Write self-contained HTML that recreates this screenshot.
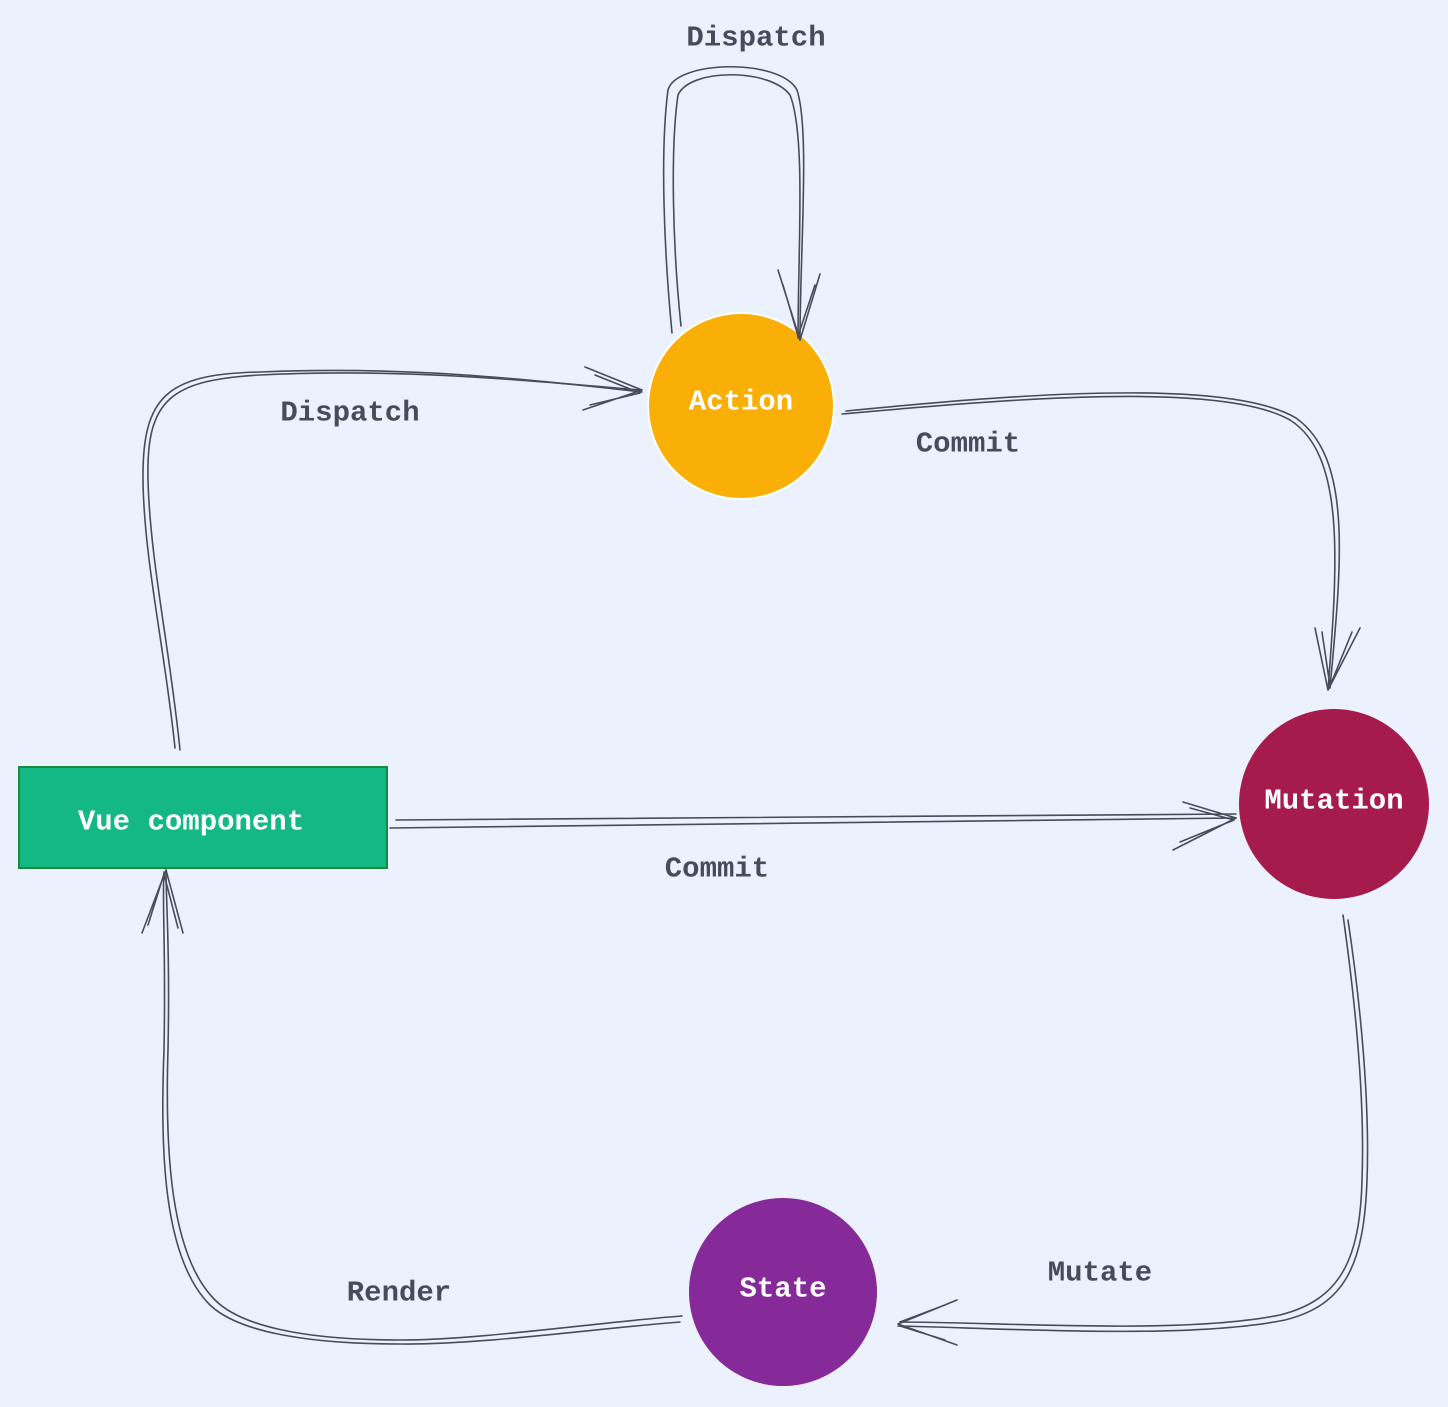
<!DOCTYPE html>
<html><head><meta charset="utf-8"><style>
body{margin:0;background:#EBF2FE;}
svg{display:block}
text{font-family:"Liberation Mono","DejaVu Sans Mono",monospace;font-weight:bold;font-size:29px;text-anchor:middle;dominant-baseline:middle}
.l{fill:#474C5A}
.w{fill:#fff}
path{fill:none;stroke:#474C5A;stroke-width:1.6;stroke-linecap:round}
</style></head><body>
<svg width="1448" height="1407" viewBox="0 0 1448 1407">
<rect width="1448" height="1407" fill="#EBF2FE"/>
<!-- nodes -->
<circle cx="741" cy="406" r="93" fill="#F9AF05" stroke="#fff" stroke-width="2"/>
<circle cx="1334" cy="804" r="95" fill="#A51C4C"/>
<circle cx="783" cy="1292" r="94" fill="#862A9A"/>
<rect x="19" y="767" width="368" height="101" fill="#13B884" stroke="#178A3E" stroke-width="2"/>
<text class="w" x="741" y="402">Action</text>
<text class="w" x="1334" y="801">Mutation</text>
<text class="w" x="783" y="1289">State</text>
<text class="w" x="191" y="822">Vue component</text>
<!-- self loop -->
<path d="M672 333 C664 250 660 150 668 90 C676 60 780 58 797 90 C810 130 800 250 800 340"/>
<path d="M681 326 C673 250 670 150 678 95 C690 68 770 68 790 95 C806 135 798 250 798 338"/>
<path d="M800 340 L778 270 M800 340 L820 274 M798 336 L783 285 M798 336 L815 285"/>
<!-- Vue -> Action -->
<path d="M180 750 C170 650 150 560 148 480 C146 400 170 380 260 375 C400 368 520 380 640 390"/>
<path d="M175 748 C165 650 144 560 143 480 C142 395 168 374 260 372 C400 366 520 378 642 392"/>
<path d="M642 390 L585 367 M642 390 L583 410 M640 393 L595 375 M640 393 L590 405"/>
<!-- Action -> Mutation -->
<path d="M842 414 C1000 400 1220 380 1290 420 C1345 455 1338 560 1328 690"/>
<path d="M846 411 C1000 396 1225 376 1296 418 C1352 458 1342 560 1330 688"/>
<path d="M1328 690 L1315 628 M1328 690 L1360 628 M1330 686 L1322 632 M1330 686 L1352 632"/>
<!-- Vue -> Mutation -->
<path d="M390 828 L1236 818"/>
<path d="M396 820 L1236 814"/>
<path d="M1236 818 L1183 802 M1236 818 L1173 850 M1234 820 L1190 808 M1234 820 L1180 842"/>
<!-- Mutation -> State -->
<path d="M1343 915 C1355 1000 1365 1100 1362 1180 C1360 1260 1340 1300 1280 1315 C1180 1335 1000 1322 900 1322"/>
<path d="M1348 920 C1360 1000 1370 1100 1367 1180 C1364 1265 1345 1305 1285 1320 C1185 1340 1000 1328 898 1326"/>
<path d="M898 1324 L957 1300 M898 1324 L957 1345 M900 1322 L945 1305 M900 1326 L945 1340"/>
<!-- State -> Vue -->
<path d="M682 1316 C600 1322 480 1340 400 1340 C300 1340 240 1325 215 1300 C170 1255 165 1150 168 1050 C170 950 166 900 166 870"/>
<path d="M680 1322 C600 1328 480 1345 400 1344 C300 1344 236 1330 210 1305 C163 1258 160 1150 164 1050 C166 950 162 900 164 872"/>
<path d="M166 870 L142 933 M166 870 L183 933 M164 874 L148 925 M164 874 L178 928"/>
<!-- labels -->
<text class="l" x="756" y="38">Dispatch</text>
<text class="l" x="350" y="413">Dispatch</text>
<text class="l" x="968" y="444">Commit</text>
<text class="l" x="717" y="869">Commit</text>
<text class="l" x="1100" y="1273">Mutate</text>
<text class="l" x="399" y="1293">Render</text>
</svg>
</body></html>
